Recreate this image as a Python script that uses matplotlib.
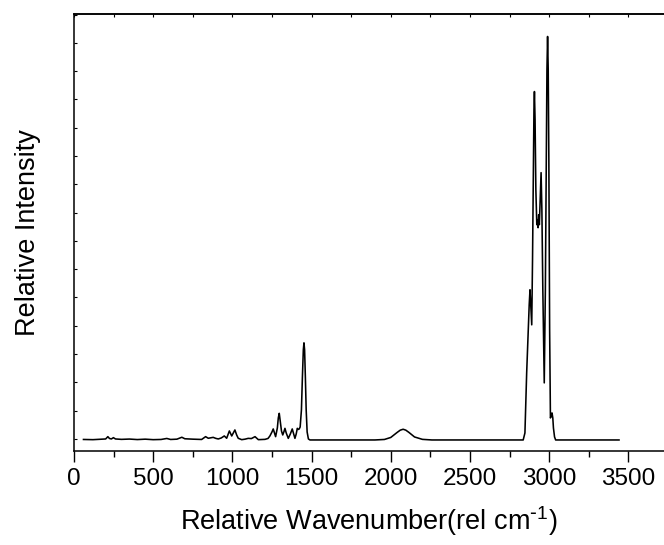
import matplotlib
matplotlib.use("Agg")
from matplotlib import pyplot as plt
from matplotlib.ticker import MultipleLocator

plt.rcParams["font.family"] = ["Liberation Sans", "DejaVu Sans"]
plt.rcParams["mathtext.default"] = "regular"

# spectrum (wavenumber, relative intensity)
wavenumber = [60, 120, 180, 200, 214, 224, 236, 249, 262, 300, 350, 400, 450, 500,
              550, 586, 610, 650, 681, 700, 750, 806, 831, 848, 865, 879, 895, 911,
              930, 949, 964, 981, 996, 1016, 1027, 1037, 1059, 1080, 1100, 1120, 1143,
              1164, 1190, 1206, 1225, 1237, 1250, 1258, 1266, 1273, 1284, 1290, 1296,
              1303, 1310, 1318, 1325, 1332, 1340, 1353, 1366, 1378, 1387, 1395, 1403,
              1410, 1416, 1422, 1428, 1436, 1442, 1448, 1452, 1456, 1461, 1466, 1472,
              1480, 1490, 1900, 1960, 2000, 2040, 2060, 2078, 2095, 2115, 2150, 2200,
              2260, 2836, 2847, 2858, 2868, 2874, 2879, 2884, 2890, 2895, 2900, 2904,
              2907, 2911, 2916, 2922, 2926, 2930, 2934, 2938, 2943, 2949, 2954, 2960,
              2969, 2976, 2982, 2986, 2990, 2994, 2998, 3003, 3008, 3013, 3018, 3023,
              3027, 3034, 3041, 3441]
intensity = [0.5, 0.3, 0.8, 1.0, 3.3, 1.5, 1.0, 2.3, 1.0, 0.6, 0.9, 0.4, 0.8, 0.3,
             0.5, 1.5, 0.5, 0.8, 2.7, 1.2, 0.8, 0.5, 3.3, 1.7, 2.2, 2.6, 1.6, 1.0,
             2.0, 4.0, 1.7, 9.0, 4.0, 10.0, 5.0, 1.7, 0.3, 0.8, 1.6, 1.4, 3.3,
             0.3, 0.5, 0.6, 1.5, 4.0, 8.0, 11.0, 7.0, 3.3, 12.0, 22.0, 26.6,
             18.0, 9.0, 5.0, 8.0, 11.6, 7.0, 1.6, 6.0, 11.0, 6.0, 1.6, 6.0,
             11.6, 10.5, 11.0, 13.0, 30.0, 62.0, 90.0, 97.0, 90.0, 62.0, 30.0, 8.0,
             1.0, 0.0, 0.0, 0.5, 2.5, 7.5, 9.8, 10.7, 9.8, 7.5, 3.0, 0.6,
             0.0, 0.0, 7.0, 67.0, 110.0, 135.0, 150.0, 135.0, 115.0, 180.0, 260.0, 330.0,
             348.0, 320.0, 250.0, 215.0, 220.0, 212.0, 225.0, 215.0, 240.0, 267.0, 230.0, 150.0,
             57.0, 150.0, 280.0, 370.0, 403.0, 370.0, 280.0, 110.0, 22.0, 24.0, 27.0, 22.0,
             12.0, 3.0, 0.0, 0.0]

fig = plt.figure(figsize=(6.64, 5.45), dpi=100)
ax = fig.add_axes([0.1114, 0.1716, 0.8886, 0.8028])

ax.plot(wavenumber, intensity, color="black", lw=1.15)

ax.set_xlim(0, 3725)
ax.set_ylim(-11.5, 425.5)

ax.xaxis.set_major_locator(MultipleLocator(500))
ax.xaxis.set_minor_locator(MultipleLocator(250))
ax.yaxis.set_major_locator(MultipleLocator(28.26, offset=1.04))
ax.tick_params(axis="x", which="major", direction="out", length=8, width=1.0,
               labelsize=17.5, pad=4, top=False)
ax.tick_params(axis="x", which="minor", direction="out", length=4, width=1.0, top=False)
ax.tick_params(axis="y", which="major", direction="in", length=2.5, width=0.8,
               labelleft=False)

# small ticks on the top edge
top = ax.secondary_xaxis("top")
top.xaxis.set_major_locator(MultipleLocator(250))
top.tick_params(direction="in", length=2, width=0.8, labeltop=False)
top.spines["top"].set_linewidth(1.1)

for s in ["left", "bottom", "top"]:
    ax.spines[s].set_linewidth(1.1)
ax.spines["right"].set_visible(False)

ax.set_xlabel(r"Relative Wavenumber(rel cm$^{\text{-}1}$)", fontsize=19.5, labelpad=10)
ax.set_ylabel("Relative Intensity", fontsize=19.5, labelpad=24)

fig.savefig("out.png", dpi=100)
